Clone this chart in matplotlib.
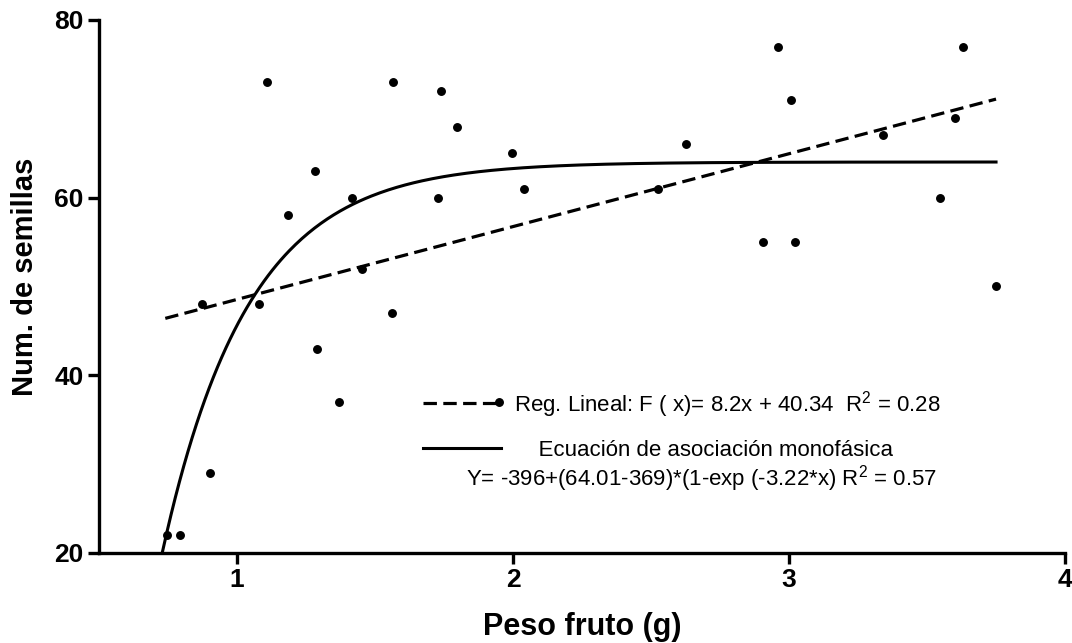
import numpy as np
import matplotlib
matplotlib.use("Agg")
import matplotlib.pyplot as plt

# ---------------------------------------------------------
# DATA
# ---------------------------------------------------------
peso_fruto = [0.746, 0.793, 0.873, 0.902, 1.08, 1.109, 1.185, 1.283, 1.29,
              1.37, 1.417, 1.453, 1.56, 1.565, 1.728, 1.739, 1.797, 1.95,
              1.996, 2.04, 2.525, 2.627, 2.906, 2.96, 3.007, 3.02, 3.34,
              3.547, 3.60, 3.63, 3.75]
num_semillas = [22, 22, 48, 29, 48, 73, 58, 63, 43,
                37, 60, 52, 47, 73, 60, 72, 68, 37,
                65, 61, 61, 66, 55, 77, 71, 55, 67,
                60, 69, 77, 50]

# linear regression F(x) = a*x + b
lin_slope = 8.2
lin_intercept = 40.34
lin_range = [0.74, 3.75]

# one phase association: Y = Y0 + (Plateau - Y0) * (1 - exp(-K*x))
y0 = -396.0
plateau = 64.01
k_rate = 3.22
fit_range = [0.70, 3.75]

reg_label = "Reg. Lineal: F ( x)= 8.2x + 40.34  R$^2$ = 0.28"
eq_label_1 = "Ecuación de asociación monofásica"
eq_label_2 = "Y= -396+(64.01-369)*(1-exp (-3.22*x) R$^2$ = 0.57"

# ---------------------------------------------------------
# FIGURE
# ---------------------------------------------------------
plt.rcParams["font.family"] = ["Liberation Sans", "DejaVu Sans"]
plt.rcParams["mathtext.fontset"] = "custom"
plt.rcParams["mathtext.rm"] = "Liberation Sans"

fig = plt.figure(figsize=(10.72, 6.43), dpi=100)
ax = fig.add_axes([0.0924, 0.140, 0.9011, 0.829])

ax.plot(peso_fruto, num_semillas, "o", color="black", markersize=5.4, zorder=3)

x_lin = np.linspace(lin_range[0], lin_range[1], 50)
h_lin, = ax.plot(x_lin, lin_slope * x_lin + lin_intercept, color="black",
                 linewidth=2.3, dashes=(4.2, 2.0))

x_fit = np.linspace(fit_range[0], fit_range[1], 400)
y_fit = y0 + (plateau - y0) * (1 - np.exp(-k_rate * x_fit))
h_fit, = ax.plot(x_fit, y_fit, color="black", linewidth=2.2)

ax.set_xlim(0.5, 4)
ax.set_ylim(20, 80)
ax.set_xticks([1, 2, 3, 4])
ax.set_yticks([20, 40, 60, 80])

for side in ["top", "right"]:
    ax.spines[side].set_visible(False)
for side in ["left", "bottom"]:
    ax.spines[side].set_linewidth(2.4)
ax.tick_params(direction="out", length=8, width=2.4, labelsize=19, pad=3)
for lbl in ax.get_xticklabels() + ax.get_yticklabels():
    lbl.set_fontweight("bold")

ax.set_xlabel("Peso fruto (g)", fontsize=22, fontweight="bold", labelpad=14)
ax.set_ylabel("Num. de semillas", fontsize=21, fontweight="bold", labelpad=12)
ax.yaxis.set_label_coords(-0.062, 0.518)

leg = ax.legend([h_lin, h_fit], [reg_label, "    " + eq_label_1],
                loc="upper left", bbox_to_anchor=(0.324, 0.329),
                frameon=False, fontsize=16, handlelength=3.5,
                handletextpad=0.58, labelspacing=0.92, borderpad=0)
ax.text(0.380, 0.139, eq_label_2, transform=ax.transAxes, fontsize=16,
        ha="left", va="center")

fig.savefig("out.png", dpi=100)
